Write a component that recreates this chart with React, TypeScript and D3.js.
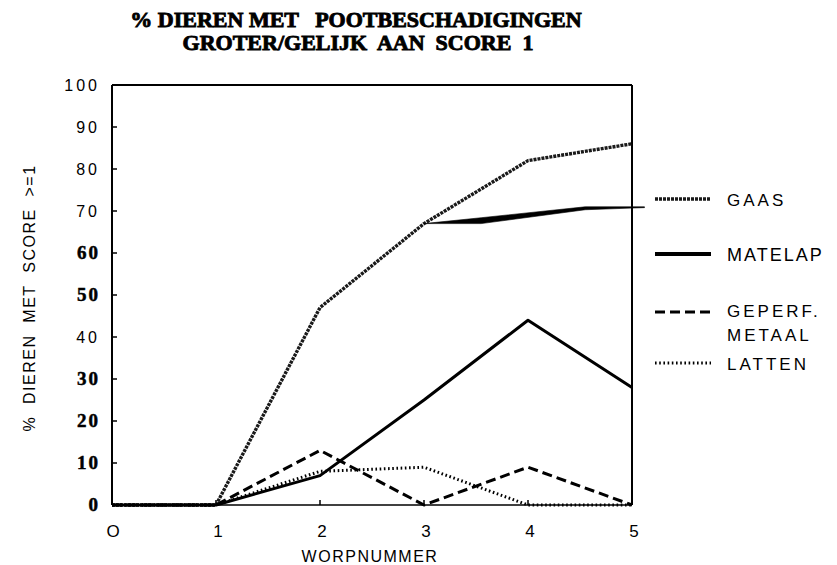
import React from "react";
import * as d3 from "d3";

const worp = [0, 1, 2, 3, 4, 5];
const gaas = [0, 0, 47, 67, 82, 86];
const matelap = [0, 0, 7, 25, 44, 28];
const geperf = [0, 0, 13, 0, 9, 0];
const latten = [0, 0, 8, 9, 0, 0];
const wedgeX = [3, 3.55, 4.55, 5, 5.12];
const wedgeTop = [67, 68.4, 71, 71, 71];
const wedgeBottom = [67, 67, 70.3, 70.7, 70.8];
const yTicks = [0, 10, 20, 30, 40, 50, 60, 70, 80, 90, 100];
const boldSerifTicks = [0, 10, 20, 30, 50, 60];
const xTicks = [0, 1, 2, 3, 4, 5];
const xTickLabels = ["O", "1", "2", "3", "4", "5"];
const legendNames = ["GAAS", "MATELAP", "GEPERF.", "LATTEN"];

export default function App() {
  const W = 837, H = 565;
  const left = 112, right = 632, top = 85, bottom = 505;
  const x = d3.scaleLinear().domain([0, 5]).range([left, right]);
  const y = d3.scaleLinear().domain([0, 100]).range([bottom, top]);
  const line = d3.line<number>().x((_, i) => x(worp[i])).y((d) => y(d));
  const area = d3
    .area<number>()
    .x((d) => x(d))
    .y0((_, i) => y(wedgeBottom[i]))
    .y1((_, i) => y(wedgeTop[i]));

  const sans = "'Liberation Sans', Arial, sans-serif";
  const serif = "'Liberation Serif', 'Times New Roman', serif";

  const styles = [
    { w: 3.4, dash: "3 1", color: "#1a1a1a" },
    { w: 3, dash: "", color: "#000" },
    { w: 3, dash: "10 5", color: "#000" },
    { w: 3, dash: "1.6 2.6", color: "#000" },
  ];
  const series = [gaas, matelap, geperf, latten];
  const legendY = [199, 254, 312, 363];
  const legendTextY = [206, 261, 317, 370];

  return (
    <svg
      width={W}
      height={H}
      style={{ position: "absolute", left: 0, top: 0, background: "#fff" }}
    >
      <rect width={W} height={H} fill="#fff" />
      {/* title */}
      <text
        x={356}
        y={27}
        textAnchor="middle"
        fontFamily={serif}
        fontWeight="bold"
        fontSize={22}
        stroke="#000"
        strokeWidth={0.9}
        style={{ whiteSpace: "pre" }}
      >
        {"% DIEREN MET   POOTBESCHADIGINGEN"}
      </text>
      <text
        x={358}
        y={50}
        textAnchor="middle"
        fontFamily={serif}
        fontWeight="bold"
        fontSize={22}
        stroke="#000"
        strokeWidth={0.9}
        style={{ whiteSpace: "pre" }}
      >
        {"GROTER/GELIJK  AAN  SCORE  1"}
      </text>

      {/* frame */}
      <line x1={left} y1={top} x2={right} y2={top} stroke="#000" strokeWidth={2} />
      <line x1={right} y1={top} x2={right} y2={bottom} stroke="#000" strokeWidth={2} />
      <line x1={left} y1={top} x2={left} y2={bottom} stroke="#000" strokeWidth={2} />
      <line x1={left} y1={bottom} x2={right} y2={bottom} stroke="#000" strokeWidth={1.6} />

      {/* y ticks */}
      {yTicks.map((t) => (
        <g key={"y" + t}>
          {t > 0 && t < 100 && (
            <line x1={left} x2={left + 5} y1={y(t)} y2={y(t)} stroke="#000" strokeWidth={1.5} />
          )}
          {boldSerifTicks.includes(t) ? (
            <text
              x={100}
              y={y(t) + 6}
              textAnchor="end"
              fontFamily={serif}
              fontWeight="bold"
              fontSize={19}
              letterSpacing={2}
              stroke="#000"
              strokeWidth={0.5}
            >
              {t}
            </text>
          ) : (
            <text
              x={100}
              y={y(t) + 6}
              textAnchor="end"
              fontFamily={sans}
              fontSize={16}
              letterSpacing={3}
            >
              {t}
            </text>
          )}
        </g>
      ))}

      {/* x ticks */}
      {xTicks.map((t, i) => (
        <g key={"x" + t}>
          {t > 0 && t < 5 && (
            <line x1={x(t)} x2={x(t)} y1={bottom} y2={bottom - 5} stroke="#000" strokeWidth={1.5} />
          )}
          <text
            x={x(t) + (i === 0 ? 1 : 2)}
            y={537}
            textAnchor="middle"
            fontFamily={sans}
            fontSize={17}
          >
            {xTickLabels[i]}
          </text>
        </g>
      ))}

      {/* axis titles */}
      <text
        x={370}
        y={562}
        textAnchor="middle"
        fontFamily={sans}
        fontSize={16}
        letterSpacing={1.5}
      >
        WORPNUMMER
      </text>
      <text
        transform="translate(35,298) rotate(-90)"
        textAnchor="middle"
        fontFamily={sans}
        fontSize={16}
        letterSpacing={1.5}
        style={{ whiteSpace: "pre" }}
      >
        {"%  DIEREN  MET  SCORE  >=1"}
      </text>

      {/* series */}
      {series.map((s, i) => (
        <path
          key={"s" + i}
          d={line(s) || ""}
          fill="none"
          stroke={styles[i].color}
          strokeWidth={styles[i].w}
          strokeDasharray={styles[i].dash}
          strokeLinejoin="round"
        />
      ))}
      <path d={area(wedgeX) || ""} fill="#000" stroke="#000" strokeWidth={0.6} />

      {/* legend */}
      {legendNames.map((n, i) => (
        <g key={"l" + i}>
          <line
            x1={655}
            x2={711}
            y1={legendY[i]}
            y2={legendY[i]}
            stroke={styles[i].color}
            strokeWidth={i === 1 ? 4 : styles[i].w}
            strokeDasharray={styles[i].dash}
          />
          <text
            x={727}
            y={legendTextY[i]}
            fontFamily={sans}
            fontSize={i === 1 ? 18 : 17}
            letterSpacing={i === 1 ? 2 : 3}
          >
            {n}
          </text>
        </g>
      ))}
      <text x={727} y={341} fontFamily={sans} fontSize={17} letterSpacing={3}>
        METAAL
      </text>
    </svg>
  );
}
